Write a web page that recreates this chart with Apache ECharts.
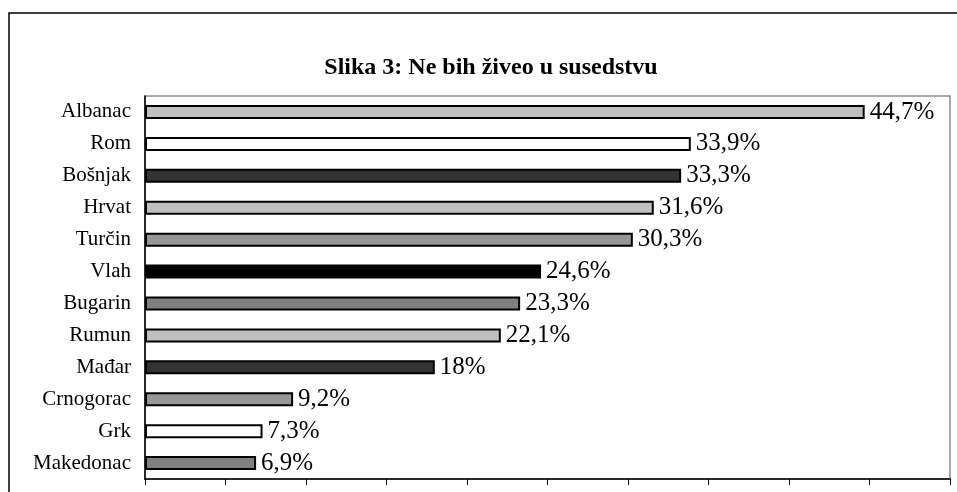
<!DOCTYPE html>
<html>
<head>
<meta charset="utf-8">
<script src="https://cdn.jsdelivr.net/npm/echarts@6/dist/echarts.min.js"></script>
<style>
  html, body { margin: 0; padding: 0; background: #fff; }
  #chart { width: 957px; height: 492px; }
</style>
</head>
<body>
<div id="chart"></div>
<script>
// Share of respondents who would not want each group as neighbours (%)
const categories = ['Albanac', 'Rom', 'Bošnjak', 'Hrvat', 'Turčin', 'Vlah', 'Bugarin', 'Rumun', 'Mađar', 'Crnogorac', 'Grk', 'Makedonac'];
const values = [44.7, 33.9, 33.3, 31.6, 30.3, 24.6, 23.3, 22.1, 18, 9.2, 7.3, 6.9];
const fills = ['#c0c0c0', '#ffffff', '#333333', '#c0c0c0', '#969696', '#000000', '#808080', '#c0c0c0', '#333333', '#969696', '#ffffff', '#808080'];

const serif = '"Liberation Serif", "Times New Roman", serif';

const chart = echarts.init(document.getElementById('chart'), null, { renderer: 'canvas' });

chart.setOption({
  backgroundColor: '#ffffff',
  animation: false,
  title: {
    text: 'Slika 3: Ne bih živeo u susedstvu',
    left: 486,
    textAlign: 'center',
    top: 51,
    textStyle: { fontFamily: serif, fontSize: 24, fontWeight: 'bold', color: '#000' }
  },
  graphic: [{
    type: 'rect',
    shape: { x: 9, y: 13, width: 980, height: 500 },
    style: { fill: null, stroke: '#000', lineWidth: 1.5 },
    silent: true,
    z: 0
  }],
  grid: {
    left: 145, top: 96, right: 7, bottom: 13,
    show: true,
    borderColor: '#8c8c8c',
    borderWidth: 1.5,
    backgroundColor: 'transparent'
  },
  xAxis: {
    type: 'value',
    min: 0, max: 50, interval: 5,
    axisLine: { show: true, lineStyle: { color: '#000', width: 1.5 } },
    axisTick: { show: true, length: 6, lineStyle: { color: '#000', width: 1 } },
    axisLabel: { show: false },
    splitLine: { show: false }
  },
  yAxis: {
    type: 'category',
    inverse: true,
    data: categories,
    axisLine: { show: true, lineStyle: { color: '#000', width: 1.5 } },
    axisTick: { show: false },
    axisLabel: { margin: 14, fontFamily: serif, fontSize: 21, color: '#000' }
  },
  series: [{
    type: 'bar',
    barWidth: 14,
    data: values.map((v, i) => ({
      value: v,
      itemStyle: { color: fills[i], borderColor: '#000', borderWidth: 2 }
    })),
    label: {
      show: true,
      position: 'right',
      distance: 5,
      fontFamily: serif,
      fontSize: 25,
      color: '#000',
      formatter: p => String(p.value).replace('.', ',') + '%'
    }
  }]
});
</script>
</body>
</html>
